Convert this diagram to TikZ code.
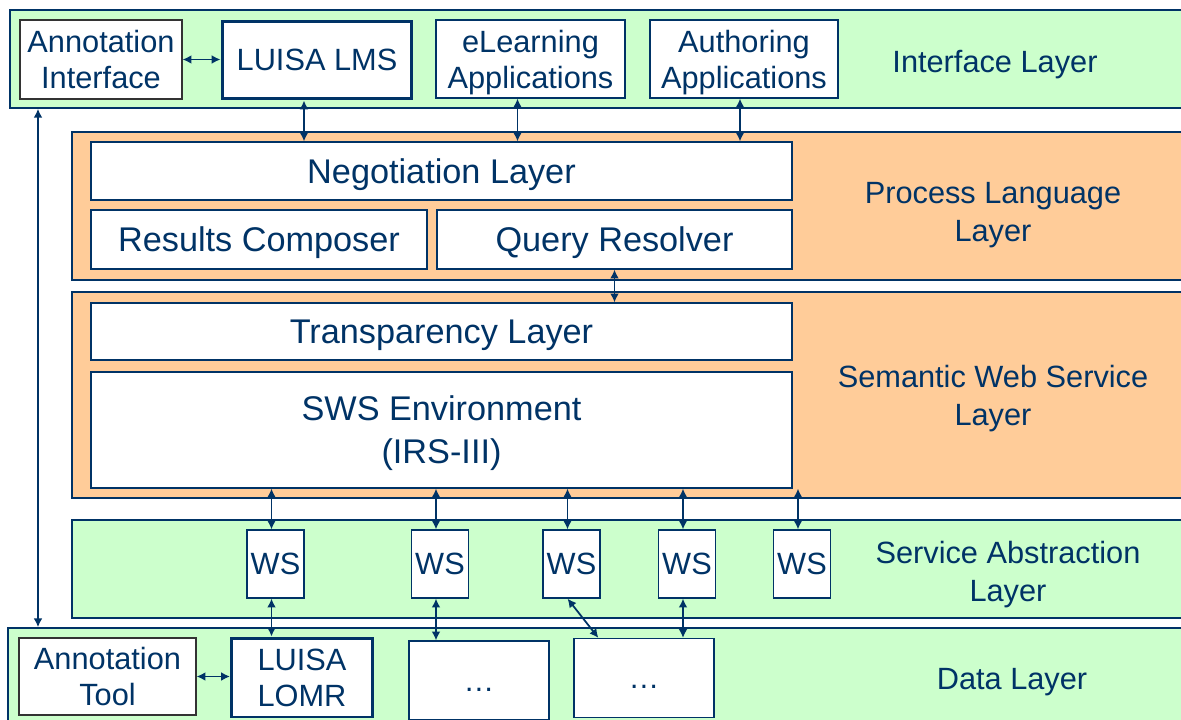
\documentclass[tikz,border=0pt]{standalone}
\usepackage{fontspec}
\setmainfont{Liberation Sans}
\usepackage{xcolor}
\usetikzlibrary{arrows.meta, positioning}
\definecolor{navy}{HTML}{003366}
\definecolor{layergreen}{HTML}{CCFFCC}
\definecolor{layerorange}{HTML}{FFCC99}

\begin{document}
\begin{tikzpicture}[x=0.02cm, y=-0.02cm,
    layer/.style={draw=navy, line width=0.9pt, inner sep=0pt},
    greenlayer/.style={layer, fill=layergreen},
    orangelayer/.style={layer, fill=layerorange},
    box/.style={draw=navy, line width=0.7pt, fill=white, inner sep=0pt, align=center,
        text=navy, text depth=0pt, font=\fontsize{17.5}{20.5}\selectfont},
    bigbox/.style={box, font=\fontsize{19.5}{24.5}\selectfont},
    mainbox/.style={box, line width=1.7pt},
    toolbox/.style={box, draw=black!80},
    wsbox/.style={box, minimum width=1.14cm, minimum height=1.36cm},
    storebox/.style={box, text height=12pt, minimum width=2.8cm, minimum height=1.58cm},
    layername/.style={align=center, text=navy, text depth=0pt, font=\fontsize{17.5}{21.6}\selectfont},
    link/.style={draw=navy, line width=1pt, {Latex[length=5pt,width=5pt]}-{Latex[length=5pt,width=5pt]}}]
    \useasboundingbox (0,0) rectangle (1181,720);
    \clip (0,0) rectangle (1181,720);

    \node[greenlayer, minimum width=23.7cm, minimum height=1.96cm] (iflayer) at (602.5,59) {};
    \node[orangelayer, minimum width=22.46cm, minimum height=2.96cm] (pllayer) at (633.5,206) {};
    \node[orangelayer, minimum width=22.46cm, minimum height=4.12cm] (swslayer) at (633.5,395) {};
    \node[greenlayer, minimum width=22.46cm, minimum height=1.96cm] (salayer) at (633.5,569) {};
    \node[greenlayer, minimum width=23.74cm, minimum height=2.04cm] (datalayer) at (601.5,679) {};

    \node[toolbox, minimum width=3.24cm, minimum height=1.58cm] (annoif) at (101,59.5) {Annotation\\Interface};
    \node[mainbox, minimum width=3.8cm, minimum height=1.56cm] (lms) at (317,60) {LUISA LMS};
    \node[box, minimum width=3.78cm, minimum height=1.56cm] (elearn) at (530.5,59) {eLearning\\Applications};
    \node[box, minimum width=3.76cm, minimum height=1.56cm] (author) at (744,59) {Authoring\\Applications};
    \node[layername] (iflabel) at (995,61) {Interface Layer};

    \node[bigbox, minimum width=14.02cm, minimum height=1.16cm] (nego) at (441.5,171) {Negotiation Layer};
    \node[bigbox, minimum width=6.72cm, minimum height=1.18cm] (results) at (259,239.5) {Results Composer};
    \node[bigbox, minimum width=7.1cm, minimum height=1.18cm] (query) at (614.5,239.5) {Query Resolver};
    \node[layername] (pllabel) at (993,212) {Process Language\\Layer};

    \node[bigbox, minimum width=14.02cm, minimum height=1.14cm] (transp) at (441.5,331.5) {Transparency Layer};
    \node[bigbox, minimum width=14.02cm, minimum height=2.32cm] (swsenv) at (441.5,430) {SWS Environment\\(IRS-III)};
    \node[layername] (swslabel) at (993,395) {Semantic Web Service\\Layer};

    \foreach \i/\x in {1/275.5, 2/440, 3/571.5, 4/687, 5/802}
        \node[wsbox] (ws\i) at (\x,564) {WS};
    \node[layername] (salabel) at (1008,571) {Service Abstraction\\Layer};

    \node[toolbox, minimum width=3.54cm, minimum height=1.54cm] (annotool) at (107.5,676.5) {Annotation\\Tool};
    \node[mainbox, minimum width=2.82cm, minimum height=1.58cm] (lomr) at (302,677.5) {LUISA\\LOMR};
    \node[storebox] (store1) at (479,680.5) {…};
    \node[storebox] (store2) at (644,678) {…};
    \node[layername] (datalabel) at (1012,679) {Data Layer};

    \draw[link] (annoif.east) -- (annoif.east -| lms.west);
    \draw[link] ([xshift=-0.26cm]lms.south) coordinate (c1) -- (c1 |- nego.north);
    \draw[link] ([xshift=-0.26cm]elearn.south) coordinate (c2) -- (c2 |- nego.north);
    \draw[link] ([xshift=-0.08cm]author.south) coordinate (c3) -- (c3 |- nego.north);
    \draw[link] (query.south) -- (query.south |- transp.north);
    \foreach \i in {1,...,5}
        \draw[link] ([xshift=-0.08cm]ws\i.north) coordinate (w) -- (w |- swsenv.south);
    \draw[link] ([xshift=-0.08cm]ws1.south) coordinate (w) -- (w |- lomr.north);
    \draw[link] ([xshift=-0.08cm]ws2.south) coordinate (w) -- (w |- store1.north);
    \draw[link] ([xshift=-0.08cm]ws3.south) -- ([xshift=0.5cm]store2.north west);
    \draw[link] ([xshift=-0.08cm]ws4.south) coordinate (w) -- (w |- store2.north);
    \draw[link] (annotool.east) -- (annotool.east -| lomr.west);
    \coordinate (lft) at (38,0);
    \draw[link] (iflayer.south -| lft) -- (datalayer.north -| lft);
\end{tikzpicture}
\end{document}
